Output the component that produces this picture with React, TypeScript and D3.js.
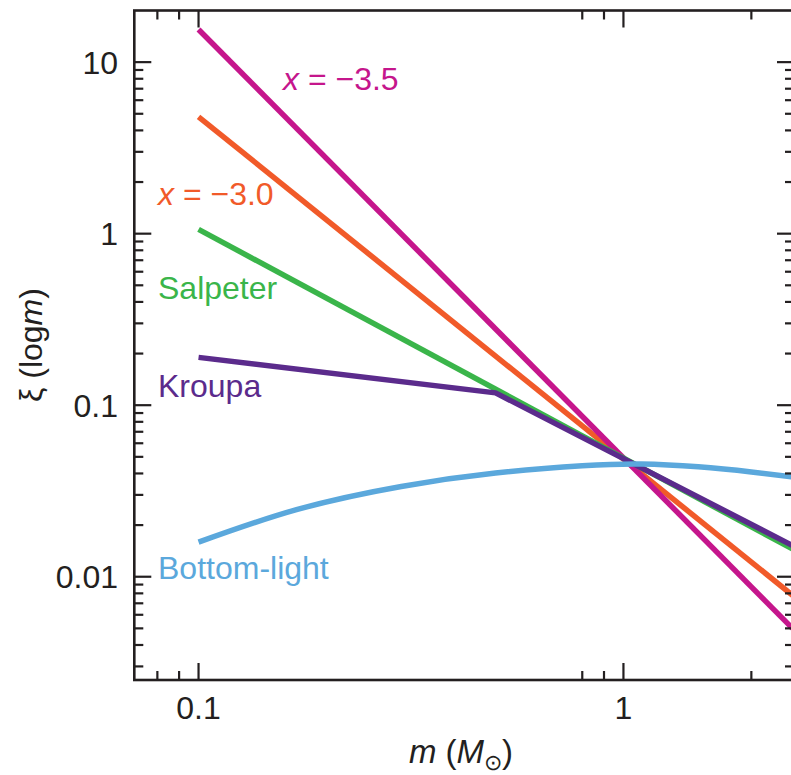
import React from "react";
import * as d3 from "d3";

// Stellar mass ranges (solar masses) and the IMF values ξ(log m) at those masses
const powerLawMass = [0.1, 2.5];
const steep35Xi = [15.5, 0.005];
const steep30Xi = [4.8, 0.0078];
const salpeterXi = [1.06, 0.0145];
const kroupaMass = [0.1, 0.5, 2.5];
const kroupaXi = [0.19, 0.118, 0.0152];
const bottomLightMass = [0.1, 0.17, 0.3, 0.5, 0.8, 1.1, 1.5, 2, 2.5];
const bottomLightXi = [0.0159, 0.0246, 0.0336, 0.0402, 0.0443, 0.0454, 0.0437, 0.0408, 0.0382];

// Axis ticks
const xMajorTicks = [0.1, 1];
const xMajorLabels = ["0.1", "1"];
const xMinorTicks = [0.08, 0.09, 0.8, 0.9, 2];
const yMajorTicks = [0.01, 0.1, 1, 10];
const yMajorLabels = ["0.01", "0.1", "1", "10"];
const yMinorTicks = [
  0.003, 0.004, 0.005, 0.006, 0.007, 0.008, 0.009,
  0.02, 0.03, 0.04, 0.05, 0.06, 0.07, 0.08, 0.09,
  0.2, 0.3, 0.4, 0.5, 0.6, 0.7, 0.8, 0.9,
  2, 3, 4, 5, 6, 7, 8, 9,
];

const COLORS = {
  steep35: "#C5168C",
  steep30: "#F15A29",
  salpeter: "#3AB54A",
  kroupa: "#5B2B8C",
  bottom: "#5BA8DC",
  axis: "#231F20",
};

const FONT = "'Liberation Sans', Arial, Helvetica, sans-serif";

export default function App() {
  const width = 791;
  const height = 775;
  const left = 134.3;
  const right = 794;
  const top = 10.5;
  const bottom = 680;

  const x = d3.scaleLog().domain([0.0706, 2.52]).range([left, right]);
  const y = d3.scaleLog().domain([0.0025, 20]).range([bottom, top]);

  const line = d3
    .line<[number, number]>()
    .x((d) => x(d[0]))
    .y((d) => y(d[1]));
  const curve = d3
    .line<[number, number]>()
    .x((d) => x(d[0]))
    .y((d) => y(d[1]))
    .curve(d3.curveNatural);

  const zip = (a: number[], b: number[]) => a.map((v, i) => [v, b[i]] as [number, number]);

  const series = [
    { key: "steep30", d: line(zip(powerLawMass, steep30Xi)), color: COLORS.steep30 },
    { key: "steep35", d: line(zip(powerLawMass, steep35Xi)), color: COLORS.steep35 },
    { key: "salpeter", d: line(zip(powerLawMass, salpeterXi)), color: COLORS.salpeter },
    { key: "kroupa", d: line(zip(kroupaMass, kroupaXi)), color: COLORS.kroupa },
    { key: "bottom", d: curve(zip(bottomLightMass, bottomLightXi)), color: COLORS.bottom },
  ];

  const majorLen = 17;
  const minorLen = 9;
  const tickW = 2.2;

  const labelSize = 32;

  return (
    <svg
      width={width}
      height={height}
      style={{ position: "absolute", left: 0, top: 0, background: "#fff" }}
      fontFamily={FONT}
    >
      <defs>
        <clipPath id="plot-area">
          <rect x={left} y={top} width={right - left} height={bottom - top} />
        </clipPath>
      </defs>

      <g clipPath="url(#plot-area)">
        {series.map((s) => (
          <path
            key={s.key}
            d={s.d || ""}
            fill="none"
            stroke={s.color}
            strokeWidth={5.5}
            strokeLinejoin="round"
          />
        ))}
      </g>

      {/* ticks on all four sides, pointing inward */}
      <g stroke={COLORS.axis} strokeWidth={tickW}>
        {xMajorTicks.map((t) => (
          <g key={"xM" + t}>
            <line x1={x(t)} x2={x(t)} y1={bottom} y2={bottom - majorLen} />
            <line x1={x(t)} x2={x(t)} y1={top} y2={top + majorLen} />
          </g>
        ))}
        {xMinorTicks.map((t) => (
          <g key={"xm" + t}>
            <line x1={x(t)} x2={x(t)} y1={bottom} y2={bottom - minorLen} />
            <line x1={x(t)} x2={x(t)} y1={top} y2={top + minorLen} />
          </g>
        ))}
        {yMajorTicks.map((t) => (
          <g key={"yM" + t}>
            <line x1={left} x2={left + majorLen} y1={y(t)} y2={y(t)} />
            <line x1={right} x2={right - majorLen} y1={y(t)} y2={y(t)} />
          </g>
        ))}
        {yMinorTicks.map((t) => (
          <g key={"ym" + t}>
            <line x1={left} x2={left + minorLen} y1={y(t)} y2={y(t)} />
            <line x1={right} x2={right - minorLen} y1={y(t)} y2={y(t)} />
          </g>
        ))}
      </g>

      {/* frame */}
      <rect
        x={left}
        y={top}
        width={right - left}
        height={bottom - top}
        fill="none"
        stroke={COLORS.axis}
        strokeWidth={2.6}
      />

      {/* tick labels */}
      <g fill={COLORS.axis} fontSize={32}>
        {xMajorTicks.map((t, i) => (
          <text key={"xl" + t} x={x(t)} y={719} textAnchor="middle">
            {xMajorLabels[i]}
          </text>
        ))}
        {yMajorTicks.map((t, i) => (
          <text key={"yl" + t} x={118} y={y(t) + 11.5} textAnchor="end">
            {yMajorLabels[i]}
          </text>
        ))}
      </g>

      {/* axis titles */}
      <text
        x={461}
        y={763}
        textAnchor="middle"
        fontSize={33}
        fill={COLORS.axis}
      >
        <tspan fontStyle="italic">m</tspan>
        <tspan> (</tspan>
        <tspan fontStyle="italic">M</tspan>
        <tspan fontSize={22} dy={7}>⊙</tspan>
        <tspan dy={-7}>)</tspan>
      </text>
      <text
        transform="translate(42,345) rotate(-90)"
        textAnchor="middle"
        fontSize={32}
        fill={COLORS.axis}
      >
        <tspan>ξ (log</tspan>
        <tspan fontStyle="italic">m</tspan>
        <tspan>)</tspan>
      </text>

      {/* series labels */}
      <g fontSize={labelSize}>
        <text x={283} y={90} fill={COLORS.steep35}>
          <tspan fontStyle="italic">x</tspan>
          <tspan> = −3.5</tspan>
        </text>
        <text x={158} y={205} fill={COLORS.steep30}>
          <tspan fontStyle="italic">x</tspan>
          <tspan> = −3.0</tspan>
        </text>
        <text x={158} y={299} fill={COLORS.salpeter}>
          Salpeter
        </text>
        <text x={158} y={397} fill={COLORS.kroupa}>
          Kroupa
        </text>
        <text x={158} y={579} fill={COLORS.bottom}>
          Bottom-light
        </text>
      </g>
    </svg>
  );
}
